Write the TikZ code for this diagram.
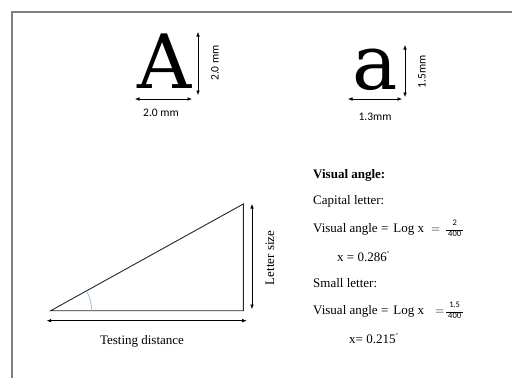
\documentclass[tikz,border=0pt]{standalone}
\usepackage{fontspec}
\setmainfont{Liberation Serif}
\newfontfamily\labfont{Carlito}
\newfontfamily\glyphfont{DejaVu Serif}
\usetikzlibrary{arrows.meta}
\definecolor{framegray}{HTML}{808080}
\definecolor{arcblue}{HTML}{9DC3E6}
\tikzset{
  dim/.style={line width=0.6pt, {Latex[length=4.5pt,width=3.6pt]}-{Latex[length=4.5pt,width=3.6pt]}},
  lab/.style={inner sep=0pt, font=\labfont\fontsize{11.5}{12}\selectfont},
  txt/.style={inner sep=0pt, anchor=base west, font=\fontsize{13}{15}\selectfont},
  big/.style={inner sep=0pt, anchor=base},
  tri/.style={line width=0.9pt, draw=black!85},
}
\newcommand{\fracnum}[2]{$\vcenter{\hbox{\labfont\fontsize{8.5}{9}\selectfont\begin{tabular}{@{}c@{}}#1\\[-3.5pt]\rule{17pt}{0.5pt}\\[-3pt]#2\end{tabular}}}$}
\newcommand{\degmark}{\raisebox{6pt}{\fontsize{6}{6}\selectfont\textdegree}}
\begin{document}
\begin{tikzpicture}[x=1pt,y=-1pt]
\useasboundingbox (0,0) rectangle (512,378);
% frame
\draw[framegray, line width=1.5pt] (12,378) -- (12,12) -- (512,12);

% Capital A
\node[big, font=\glyphfont\fontsize{75}{75}\selectfont] (A) at (165,88) {A};
\coordinate (Av1) at (198,32);
\coordinate (Av2) at (198,95);
\draw[dim] (Av1) -- (Av2);
\node[lab, rotate=90] (Avl) at (215,63) {2.0 mm};
\coordinate (Ah1) at (135,99);
\coordinate (Ah2) at (192,99);
\draw[dim] (Ah1) -- (Ah2);
\node[lab] (Ahl) at (161,113) {2.0 mm};

% small a
\node[big, font=\glyphfont\fontsize{76}{76}\selectfont] (a) at (375,89) {a};
\coordinate (av1) at (405,45);
\coordinate (av2) at (405,97);
\draw[dim] (av1) -- (av2);
\node[lab, rotate=90] (avl) at (422,72) {1.5mm};
\coordinate (ah1) at (348,99);
\coordinate (ah2) at (402,99);
\draw[dim] (ah1) -- (ah2);
\node[lab] (ahl) at (375,117) {1.3mm};

% triangle
\coordinate (P) at (50.7,310.7);
\coordinate (Q) at (243.3,310.7);
\coordinate (R) at (243.3,204);
\draw[tri] (P) -- (Q) -- (R) -- cycle;
\draw[arcblue, line width=0.8pt] (91.7,310.7) arc[start angle=0, end angle=-27, radius=41];
\coordinate (ls1) at (252,204);
\coordinate (ls2) at (252,309);
\draw[dim] (ls1) -- (ls2);
\node[inner sep=0pt, rotate=90, font=\fontsize{13}{15}\selectfont] (lsl) at (270,258) {Letter size};
\coordinate (td1) at (46.7,320.7);
\coordinate (td2) at (246.7,320.7);
\draw[dim] (td1) -- (td2);
\node[inner sep=0pt, anchor=base, font=\fontsize{13}{15}\selectfont] (tdl) at (142,344) {Testing distance};

% text column
\node[txt, font=\bfseries\fontsize{13}{15}\selectfont] (t1) at (313,178) {Visual angle:};
\node[txt] (t2) at (313,204) {Capital letter:};
\node[txt] (t3) at (313,232) {Visual angle =\hspace{5pt}Log x\hspace{7pt}$=$\hspace{6pt}\fracnum{2}{400}};
\node[txt] (t4) at (337,261) {x = 0.286\degmark};
\node[txt] (t5) at (313,287) {Small letter:};
\node[txt] (t6) at (313,314) {Visual angle =\hspace{5pt}Log x\hspace{11pt}$=$\hspace{2pt}\fracnum{1.5}{400}};
\node[txt] (t7) at (349,343) {x= 0.215\degmark};
\end{tikzpicture}
\end{document}
